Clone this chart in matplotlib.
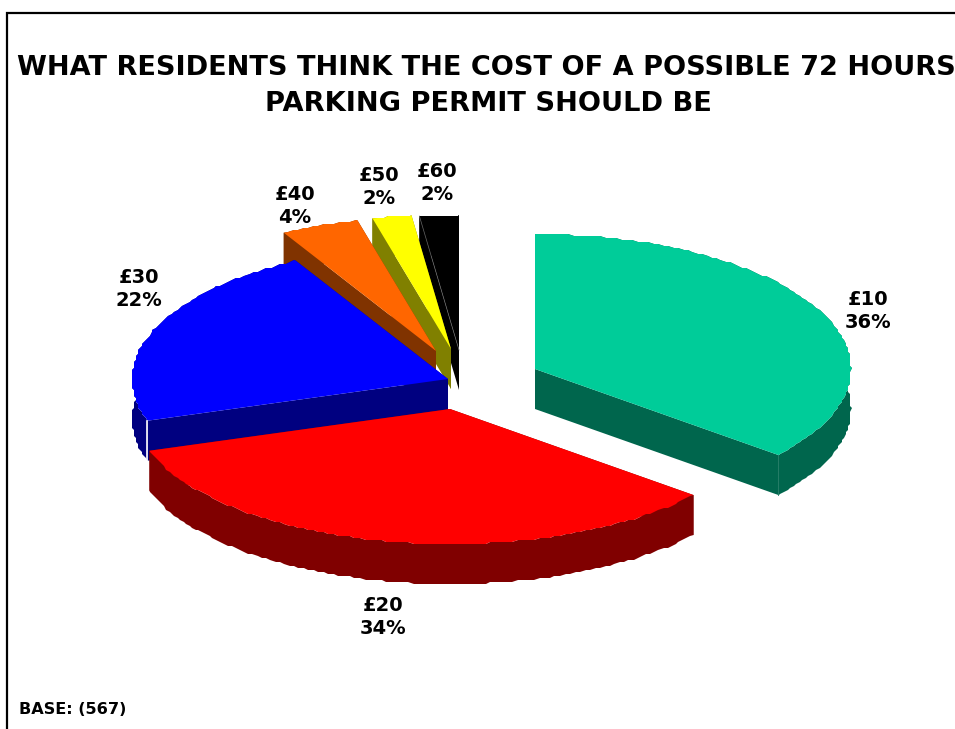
"""
Exploded pseudo-3D pie: what residents think a 72 hour parking permit should cost.
Drawn on one full-figure axes whose units are pixels of the 955x729 image.
"""

import numpy as np
import matplotlib
matplotlib.use("Agg")
import matplotlib.pyplot as plt

categories = ["£10", "£20", "£30", "£40", "£50", "£60"]
percents = [36, 34, 22, 4, 2, 2]

title_lines = [
    "WHAT RESIDENTS THINK THE COST OF A POSSIBLE 72 HOURS",
    "PARKING PERMIT SHOULD BE",
]
base_note = "BASE: (567)"

# apex of every slice after explosion, in pixels
apex_x = [535, 450, 448, 436, 451, 459]
apex_y = [369, 409, 379, 351, 349, 350]
top_colors = ["#00CC99", "#FF0000", "#0000FF", "#FF6600", "#FFFF00", "#000000"]
side_colors = ["#00664D", "#800000", "#000080", "#803300", "#808000", "#000000"]
label_x = [868, 383, 139, 295, 379, 437]
label_y = [311, 617, 289, 206, 187, 183]

radius_x = 316
radius_y = 135
depth = 40
# back slices first, so nearer ones paint over them
draw_order = [5, 4, 3, 2, 0, 1]


def arc_points(cx, cy, start, end):
    # angles clockwise from 12 o'clock; rounding gives the slightly stepped rim of the original
    theta = np.radians(np.arange(start, end + 0.5, 1.0))
    theta = np.append(theta, np.radians(end))
    x = cx + radius_x * np.sin(theta)
    y = cy - radius_y * np.cos(theta)
    inner_x, inner_y = x[1:-1], y[1:-1]
    x[1:-1] = np.round(inner_x / 2) * 2
    y[1:-1] = np.round(inner_y / 2) * 2
    return x, y


def draw_slice(ax, i, start, end):
    cx, cy = apex_x[i], apex_y[i]
    x, y = arc_points(cx, cy, start, end)

    # outer rim
    ax.fill(np.r_[x, x[::-1]], np.r_[y, y[::-1] + depth], color=side_colors[i], lw=0)
    # the two cut faces
    for k in [0, -1]:
        ax.fill([cx, x[k], x[k], cx], [cy, y[k], y[k] + depth, cy + depth],
                color=side_colors[i], lw=0)
    # top face
    ax.fill(np.r_[cx, x], np.r_[cy, y], color=top_colors[i], lw=0)


fig = plt.figure(figsize=(9.55, 7.29), dpi=100)
ax = fig.add_axes([0, 0, 1, 1])
ax.set_xlim(0, 955)
ax.set_ylim(729, 0)
ax.axis("off")

# frame: top and left only
ax.plot([7, 7, 955], [729, 13, 13], color="black", lw=1.6, solid_joinstyle="miter")

edges = np.cumsum([0] + percents) * 3.6
for i in draw_order:
    draw_slice(ax, i, edges[i], edges[i + 1])

# thin seams at the slice corners
corner_x, corner_y = arc_points(apex_x[2], apex_y[2], edges[2], edges[3])
ax.plot([corner_x[0]] * 2, [corner_y[0], corner_y[0] + depth], color="white", lw=1.2)
corner_x, corner_y = arc_points(apex_x[0], apex_y[0], edges[0], edges[1])
ax.plot([corner_x[-1]] * 2, [corner_y[-1], corner_y[-1] + depth], color="#1F7A63", lw=0.6)
corner_x, corner_y = arc_points(apex_x[5], apex_y[5], edges[5], edges[6])
ax.plot([corner_x[0], apex_x[5]], [corner_y[0], apex_y[5]], color="#666666", lw=0.5)

text_style = dict(family="DejaVu Sans", weight="bold", color="black")
ax.text(486.5, 68, title_lines[0], fontsize=19.5, ha="center", va="center", **text_style)
ax.text(488, 104, title_lines[1], fontsize=19.6, ha="center", va="center", **text_style)
for i, name in enumerate(categories):
    ax.text(label_x[i], label_y[i], f"{name}\n{percents[i]}%", fontsize=14,
            ha="center", va="center", linespacing=1.3, **text_style)
ax.text(19, 709, base_note, fontsize=11.6, ha="left", va="center", **text_style)

fig.savefig("out.png", dpi=100)
plt.close(fig)
